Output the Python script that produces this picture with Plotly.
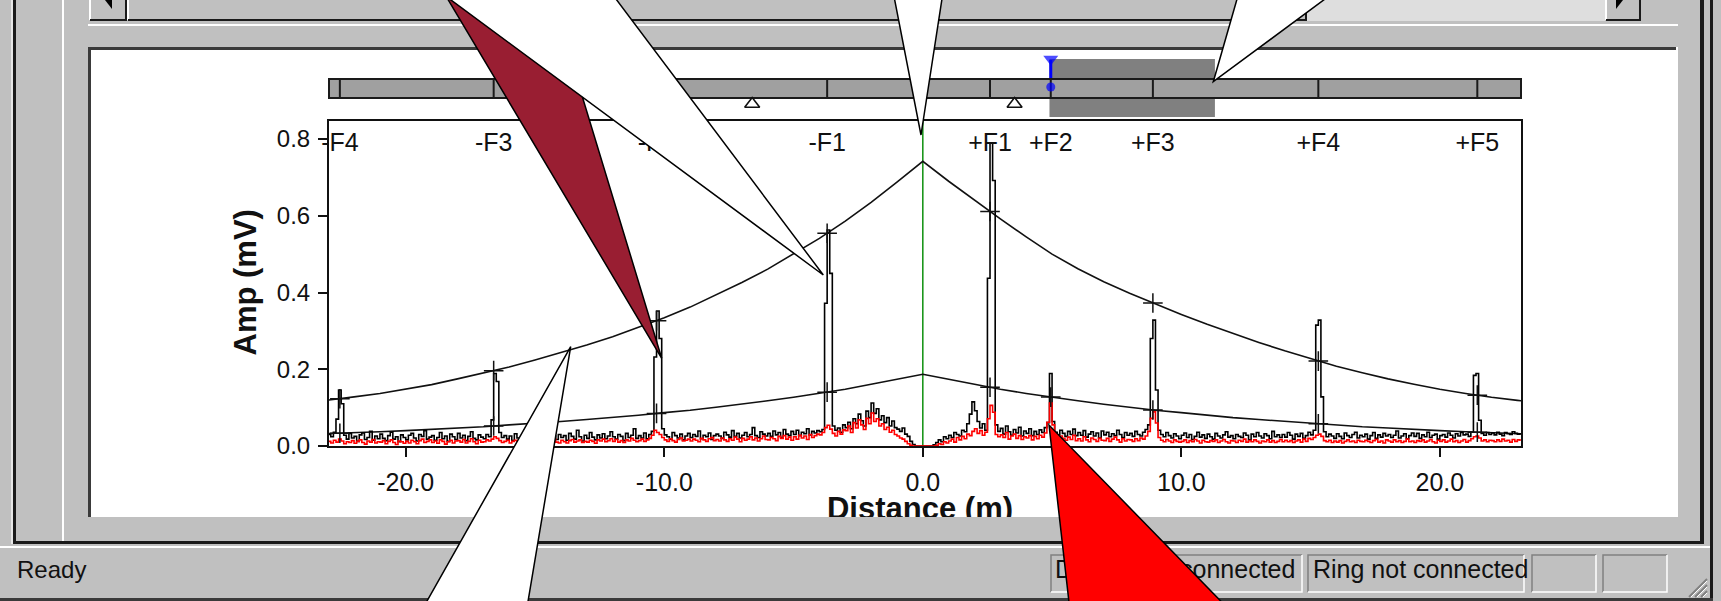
import numpy as np
import plotly.graph_objects as go

# ---------------------------------------------------------------- data ----
# Trace samples in mV, one every 0.1 m starting at -23.0 m
DIST_START = -23.0
DIST_STEP = 0.1

REFLECTION = [
    .030, .024, .036, .070, .146, .110, .028, .018, .033, .021,
    .025, .012, .029, .034, .017, .022, .038, .015, .026, .019,
    .031, .020, .014, .027, .036, .018, .024, .011, .029, .022,
    .016, .028, .033, .021, .013, .030, .025, .040, .018, .023,
    .027, .015, .022, .035, .019, .026, .012, .031, .024, .017,
    .033, .021, .028, .014, .025, .037, .020, .016, .029, .023,
    .019, .030, .024, .068, .189, .168, .035, .022, .027, .018,
    .026, .014, .032, .021, .017, .029, .023, .036, .015, .025,
    .031, .019, .024, .012, .028, .034, .020, .026, .017, .030,
    .022, .027, .015, .033, .025, .018, .041, .024, .013, .028,
    .020, .035, .023, .016, .029, .021, .032, .019, .026, .037,
    .024, .018, .030, .025, .014, .033, .022, .028, .045, .020,
    .027, .021, .034, .019, .030, .038, .232, .352, .280, .045,
    .029, .024, .018, .035, .027, .021, .031, .016, .026, .033,
    .022, .030, .025, .039, .019, .028, .024, .034, .017, .027,
    .031, .026, .020, .036, .029, .023, .040, .025, .033, .021,
    .028, .035, .024, .030, .048, .027, .022, .037, .031, .026,
    .033, .025, .039, .029, .035, .022, .043, .031, .027, .038,
    .030, .041, .027, .036, .032, .045, .029, .038, .034, .040,
    .037, .043, .372, .563, .450, .052, .041, .047, .036, .055,
    .048, .062, .045, .071, .058, .083, .066, .052, .091, .074,
    .112, .085, .097, .068, .079, .061, .074, .052, .065, .048,
    .044, .038, .047, .031, .025, .012, .004, 0.0, 0.0, 0.0,
    0.0, 0.0, 0.0, 0.0, .003, .009, .016, .011, .024, .019,
    .028, .022, .035, .030, .026, .041, .037, .058, .083, .115,
    .092, .064, .047, .058, .041, .437, .789, .692, .055, .038,
    .046, .031, .052, .037, .028, .043, .034, .049, .026, .039,
    .033, .045, .027, .038, .030, .042, .035, .048, .061, .189,
    .064, .036, .029, .041, .033, .025, .038, .030, .044, .027,
    .035, .028, .040, .023, .031, .037, .026, .034, .021, .039,
    .029, .036, .024, .032, .027, .041, .030, .022, .035, .028,
    .033, .025, .038, .030, .026, .036, .043, .055, .280, .328,
    .146, .041, .030, .024, .035, .027, .021, .032, .026, .019,
    .028, .034, .022, .030, .017, .025, .036, .023, .029, .020,
    .031, .024, .018, .033, .026, .021, .029, .037, .023, .027,
    .019, .030, .025, .022, .034, .028, .016, .031, .024, .035,
    .026, .021, .032, .027, .019, .038, .024, .029, .022, .030,
    .023, .035, .028, .018, .031, .025, .033, .020, .027, .036,
    .029, .041, .315, .328, .128, .037, .024, .031, .026, .020,
    .032, .025, .019, .034, .027, .022, .030, .036, .021, .028,
    .024, .031, .018, .027, .035, .020, .029, .023, .033, .026,
    .030, .022, .028, .039, .021, .026, .032, .019, .027, .034,
    .025, .033, .020, .029, .024, .036, .022, .028, .031, .018,
    .027, .030, .023, .034, .028, .021, .032, .026, .035, .029,
    .031, .025, .036, .184, .189, .067, .033, .028, .035, .030,
    .034, .029, .036, .031, .027, .035, .032, .030, .037, .033,
    .031, .034,
]

NOISE_FLOOR = [
    .012, .008, .015, .010, .018, .013, .006, .011, .009, .014,
    .007, .012, .016, .009, .005, .013, .010, .017, .008, .011,
    .010, .014, .006, .012, .016, .009, .004, .013, .011, .007,
    .012, .008, .015, .011, .006, .014, .018, .009, .012, .016,
    .009, .013, .007, .016, .012, .005, .011, .015, .008, .013,
    .014, .010, .017, .008, .012, .019, .011, .006, .015, .010,
    .011, .016, .013, .018, .024, .020, .014, .009, .012, .015,
    .008, .012, .015, .010, .006, .013, .017, .011, .009, .014,
    .013, .009, .016, .012, .007, .014, .011, .018, .010, .008,
    .015, .011, .008, .014, .017, .010, .013, .016, .009, .012,
    .010, .015, .012, .007, .016, .013, .018, .011, .014, .019,
    .012, .017, .010, .014, .009, .016, .013, .020, .015, .011,
    .014, .018, .012, .016, .020, .028, .041, .035, .030, .022,
    .016, .012, .019, .014, .010, .017, .021, .013, .015, .018,
    .013, .018, .015, .011, .020, .016, .012, .019, .022, .014,
    .017, .013, .021, .016, .012, .019, .015, .023, .018, .011,
    .020, .015, .018, .024, .016, .021, .013, .019, .026, .017,
    .016, .022, .019, .014, .025, .020, .027, .018, .023, .015,
    .024, .018, .028, .021, .026, .017, .030, .022, .027, .031,
    .029, .035, .048, .054, .044, .033, .026, .038, .031, .042,
    .040, .052, .035, .061, .047, .068, .055, .043, .072, .058,
    .086, .064, .071, .052, .058, .043, .049, .036, .041, .030,
    .026, .021, .018, .012, .006, .002, 0.0, 0.0, 0.0, 0.0,
    0.0, 0.0, 0.0, 0.0, 0.0, .002, .006, .004, .011, .008,
    .013, .018, .010, .022, .016, .025, .019, .031, .027, .038,
    .045, .033, .040, .028, .036, .071, .106, .088, .030, .024,
    .029, .022, .035, .018, .026, .031, .020, .027, .017, .024,
    .021, .027, .016, .025, .019, .028, .023, .034, .062, .112,
    .055, .024, .018, .026, .020, .015, .023, .017, .028, .014,
    .019, .013, .024, .016, .011, .021, .017, .012, .020, .015,
    .014, .020, .012, .018, .023, .016, .010, .019, .013, .017,
    .016, .012, .019, .014, .021, .018, .026, .038, .072, .089,
    .060, .022, .015, .011, .017, .013, .009, .016, .012, .010,
    .012, .016, .009, .014, .011, .017, .013, .008, .015, .011,
    .010, .014, .012, .016, .009, .013, .017, .011, .008, .014,
    .013, .009, .015, .012, .018, .010, .014, .011, .016, .012,
    .008, .013, .011, .016, .010, .014, .009, .012, .017, .011,
    .015, .011, .014, .009, .013, .016, .010, .018, .012, .020,
    .017, .022, .028, .031, .025, .014, .011, .015, .009, .013,
    .010, .014, .008, .012, .016, .011, .013, .009, .015, .012,
    .011, .015, .012, .009, .014, .017, .010, .013, .008, .016,
    .013, .010, .016, .011, .014, .009, .012, .018, .011, .013,
    .009, .014, .012, .016, .010, .013, .017, .011, .008, .015,
    .012, .016, .010, .013, .018, .011, .014, .009, .013, .017,
    .010, .014, .019, .024, .026, .021, .013, .016, .011, .015,
    .014, .011, .016, .012, .018, .013, .015, .010, .017, .012,
    .016, .013,
]

# Threshold envelopes (mV), one value per metre
CURVE_DIST = list(range(-24, 25))
UPPER_LIMIT = [
    .111, .119, .128, .137, .148, .160, .175, .190, .206, .224,
    .243, .263, .285, .309, .334, .362, .393, .426, .461, .500,
    .541, .586, .635, .688, .742, .690, .640, .592, .545, .500,
    .462, .428, .398, .370, .343, .317, .293, .270, .248, .227,
    .208, .191, .175, .161, .148, .137, .127, .119, .112,
]
LOWER_LIMIT = [
    .030, .032, .035, .037, .040, .043, .047, .050, .055, .059,
    .064, .069, .074, .080, .087, .093, .101, .109, .118, .127,
    .137, .148, .161, .174, .187, .174, .161, .148, .137, .127,
    .118, .109, .101, .093, .087, .080, .074, .069, .064, .059,
    .055, .050, .047, .043, .040, .037, .035, .032, .030,
]

EVENT_LABELS = ["-F4", "-F3", "-F2", "-F1", "+F1", "+F2", "+F3", "+F4", "+F5"]
EVENT_DIST = [-22.55, -16.6, -10.3, -3.7, 2.6, 4.95, 8.9, 15.3, 21.45]
# events whose peak reaches the upper envelope get a cross on it too
EVENT_ON_UPPER = [True, True, True, True, True, False, True, True, True]
SELECTED_EVENT = "+F2"
SELECTION_SPAN = [4.9, 11.3]
LANDMARK_DIST = [-6.6, 3.55]
CURSOR_DIST = 0.0

X_RANGE = [-22.97, 23.14]
Y_RANGE = [0.0, 0.847]
X_TICKS = [-20, -10, 0, 10, 20]
X_TICK_LABELS = ["-20.0", "-10.0", "0.0", "10.0", "20.0"]
Y_TICKS = [0.0, 0.2, 0.4, 0.6, 0.8]

STATUS_TEXTS = ["Ready", "Device not connected", "Ring not connected"]

# ------------------------------------------------------------ geometry ----
FIG_W, FIG_H = 1721, 601
BOX_L, BOX_R, BOX_T, BOX_B = 329, 1521, 121, 446   # plot box in window pixels
FONT = "Liberation Sans, Arial, sans-serif"
GRAY = "#c0c0c0"
INK = "#111111"


def px(x):
    """window column -> paper x"""
    return x / FIG_W


def py(y):
    """window row (from top) -> paper y"""
    return 1 - y / FIG_H


def amp_at_row(y):
    """window row -> amplitude axis value"""
    return Y_RANGE[0] + (BOX_B - y) / (BOX_B - BOX_T) * (Y_RANGE[1] - Y_RANGE[0])


shapes = []


def rect(x0, y0, x1, y1, fill, layer="below"):
    shapes.append(dict(type="rect", xref="paper", yref="paper",
                       x0=px(x0), x1=px(x1), y0=py(y1), y1=py(y0),
                       fillcolor=fill, line=dict(width=0), layer=layer))


def path(points, fill=None, color="black", width=1.5, closed=True, layer="above"):
    d = "M " + " L ".join(f"{px(x):.5f},{py(y):.5f}" for x, y in points)
    if closed:
        d += " Z"
    shapes.append(dict(type="path", xref="paper", yref="paper", path=d,
                       fillcolor=fill or "rgba(0,0,0,0)",
                       line=dict(color=color, width=width), layer=layer))


def bevel(x0, y0, x1, y1, tl, br, width=1.5, layer="below"):
    path([(x0, y1), (x0, y0), (x1, y0)], color=tl, width=width, closed=False, layer=layer)
    path([(x1, y0), (x1, y1), (x0, y1)], color=br, width=width, closed=False, layer=layer)


# ---- window chrome (under the chart) ----
rect(11, 0, 13, 544, "#e6e6e6")
rect(13, 0, 16, 544, "#1a1a1a")
rect(62, 0, 64, 541, "#ffffff")
rect(1700, 0, 1704, 544, "#1a1a1a")
rect(1710, 0, 1713, 601, "#1a1a1a")

# horizontal scroll bar
rect(90, 0, 127, 21, GRAY)
bevel(90, -2, 126, 20, "#ffffff", "#1a1a1a", width=2)
path([(105, 0), (112, 0), (112, 9)], fill="black", width=0, layer="below")
bevel(128, -2, 1306, 20, "#ffffff", "#1a1a1a", width=2)
rect(1307, 0, 1605, 21, "#dedede")
bevel(1606, -2, 1640, 20, "#ffffff", "#1a1a1a", width=2)
path([(1616, 0), (1623, 0), (1616, 9)], fill="black", width=0, layer="below")
rect(88, 24, 1678, 26, "#ffffff")

# white chart panel
rect(88, 47, 1678, 517, "#ffffff")
rect(88, 47, 1676, 50, "#3a3a3a")
rect(88, 47, 91, 517, "#3a3a3a")

# status bar
rect(0, 546, 1710, 548, "#ffffff")
rect(0, 598, 1713, 601, "#3a3a3a")
for x0, x1 in [(1051, 1302), (1308, 1524), (1532, 1596), (1603, 1667)]:
    bevel(x0, 555, x1, 592, "#808080", "#ffffff")
for off in (0, 6, 12):
    path([(1689 + off, 597), (1707, 579 + off)], color="#808080", width=2, closed=False, layer="below")
    path([(1691 + off, 597), (1707, 581 + off)], color="#ffffff", width=1, closed=False, layer="below")

# ---- event strip above the plot ----
shapes.append(dict(type="rect", xref="x", yref="paper",
                   x0=SELECTION_SPAN[0], x1=SELECTION_SPAN[1], y0=py(117), y1=py(59),
                   fillcolor="#808080", line=dict(width=0), layer="below"))
shapes.append(dict(type="rect", xref="x domain", yref="paper", x0=0, x1=1, y0=py(98), y1=py(79),
                   fillcolor="#a0a0a0", line=dict(color="#1a1a1a", width=2), layer="below"))
for ev in EVENT_DIST:
    shapes.append(dict(type="line", xref="x", yref="paper", x0=ev, x1=ev, y0=py(98), y1=py(79),
                       line=dict(color="#1a1a1a", width=2), layer="below"))
sel_x = EVENT_DIST[EVENT_LABELS.index(SELECTED_EVENT)]
shapes.append(dict(type="line", xref="x", yref="paper", x0=sel_x, x1=sel_x, y0=py(78), y1=py(60),
                   line=dict(color="#0000ff", width=3), layer="below"))

# cursor line
shapes.append(dict(type="line", xref="x", yref="paper", x0=CURSOR_DIST, x1=CURSOR_DIST,
                   y0=py(BOX_B), y1=py(BOX_T),
                   line=dict(color="#1c961c", width=1.6), layer="below"))

# ---- frame strip below the panel (covers the lower part of the axis title) ----
rect(91, 517, 1700, 541, GRAY, layer="above")
rect(13, 541, 1704, 544, "#1a1a1a", layer="above")

# ---- callout pointers ----
MAROON = "#991e32"
path([(436.4, -20), (546.9, -20), (661.7, 358.3)], fill=MAROON)
path([(423.9, -20), (601.7, -20), (823.3, 275)], fill="#ffffff")
path([(890.8, -20), (944.9, -20), (921, 135)], fill="#ffffff")
path([(1242.5, -20), (1350.7, -20), (1213.3, 81.7)], fill="#ffffff")
path([(570.7, 346.7), (416.3, 620), (524.9, 620)], fill="#ffffff")
path([(1049, 425), (1071, 620), (1239.2, 620)], fill="#ff0000")

# ---------------------------------------------------------------- traces ----
dist = np.round(DIST_START + DIST_STEP * np.arange(len(REFLECTION)), 2)

fig = go.Figure()
line_style = dict(color=INK, width=1.6)
fig.add_trace(go.Scatter(x=CURVE_DIST, y=UPPER_LIMIT, mode="lines", line=line_style, hoverinfo="skip"))
fig.add_trace(go.Scatter(x=CURVE_DIST, y=LOWER_LIMIT, mode="lines", line=line_style, hoverinfo="skip"))
fig.add_trace(go.Scatter(x=dist, y=REFLECTION, mode="lines",
                         line=dict(color="#000000", width=1.6, shape="hv"), hoverinfo="skip"))
fig.add_trace(go.Scatter(x=dist, y=NOISE_FLOOR, mode="lines",
                         line=dict(color="#ff0000", width=1.6, shape="hv"), hoverinfo="skip"))

# event crosses on the envelopes
upper_at = np.interp(EVENT_DIST, CURVE_DIST, UPPER_LIMIT)
lower_at = np.interp(EVENT_DIST, CURVE_DIST, LOWER_LIMIT)
cross_x = [d for d, on in zip(EVENT_DIST, EVENT_ON_UPPER) if on] + EVENT_DIST
cross_y = [v for v, on in zip(upper_at, EVENT_ON_UPPER) if on] + list(lower_at)
fig.add_trace(go.Scatter(x=cross_x, y=cross_y, mode="markers",
                         marker=dict(symbol="cross-thin", size=14, line=dict(color=INK, width=1.5)),
                         hoverinfo="skip"))

# event labels along the top of the plot
fig.add_trace(go.Scatter(x=EVENT_DIST, y=[amp_at_row(145)] * len(EVENT_DIST), mode="text",
                         text=EVENT_LABELS, textposition="middle center", cliponaxis=False,
                         textfont=dict(family=FONT, size=25, color=INK), hoverinfo="skip"))

# landmarks and selected-event pin on the event strip (distance x, window-row y)
fig.add_trace(go.Scatter(x=LANDMARK_DIST, y=[104] * len(LANDMARK_DIST), mode="markers",
                         xaxis="x", yaxis="y3", cliponaxis=False, hoverinfo="skip",
                         marker=dict(symbol="triangle-up", size=13, color="#ffffff",
                                     line=dict(color=INK, width=1.6))))
fig.add_trace(go.Scatter(x=[sel_x, sel_x], y=[59, 87], mode="markers",
                         xaxis="x", yaxis="y3", cliponaxis=False, hoverinfo="skip",
                         marker=dict(symbol=["triangle-down", "circle"], size=[13, 9], color="#0000ff",
                                     line=dict(width=0))))

# window-level texts placed in window pixel coordinates
fig.add_trace(go.Scatter(
    x=[920, 17, 1055, 1313], y=[511, 572, 572, 572], mode="text", cliponaxis=False,
    text=["<b>Distance (m)</b>"] + STATUS_TEXTS,
    textposition=["middle center", "middle right", "middle right", "middle right"],
    textfont=dict(family=FONT, size=[31, 24, 25, 25], color=INK),
    xaxis="x2", yaxis="y2", hoverinfo="skip"))

axis_common = dict(showgrid=False, zeroline=False, showline=True, mirror=True, linecolor=INK,
                   linewidth=2, ticks="outside", ticklen=9, tickwidth=1.5, tickcolor=INK,
                   automargin=False)
hidden = dict(visible=False, automargin=False, showticklabels=False, ticks="")
fig.update_layout(
    width=FIG_W, height=FIG_H,
    margin=dict(l=0, r=0, t=0, b=0, pad=0, autoexpand=False),
    paper_bgcolor=GRAY, plot_bgcolor="rgba(0,0,0,0)",
    showlegend=False,
    xaxis=dict(domain=[px(BOX_L), px(BOX_R)], anchor="y", range=X_RANGE,
               tickvals=X_TICKS, ticktext=X_TICK_LABELS, ticklabelstandoff=4,
               tickfont=dict(family=FONT, size=25, color=INK), **axis_common),
    yaxis=dict(domain=[py(BOX_B), py(BOX_T)], anchor="x", range=Y_RANGE,
               tickvals=Y_TICKS, tickformat=".1f", ticklabelstandoff=3,
               tickfont=dict(family=FONT, size=24, color=INK), **axis_common),
    xaxis2=dict(domain=[0, 1], anchor="y2", range=[0, FIG_W], **hidden),
    yaxis2=dict(domain=[0, 1], anchor="x2", range=[FIG_H, 0], **hidden),
    yaxis3=dict(domain=[0, 1], anchor="x", range=[FIG_H, 0], **hidden),
    shapes=shapes,
    annotations=[dict(text="<b>Amp (mV)</b>", xref="paper", yref="paper", x=px(245), y=py(282.5),
                      xanchor="center", yanchor="middle", textangle=-90, showarrow=False,
                      font=dict(family=FONT, size=31, color=INK))],
)

fig.write_html("out.html", config={"displayModeBar": False})
